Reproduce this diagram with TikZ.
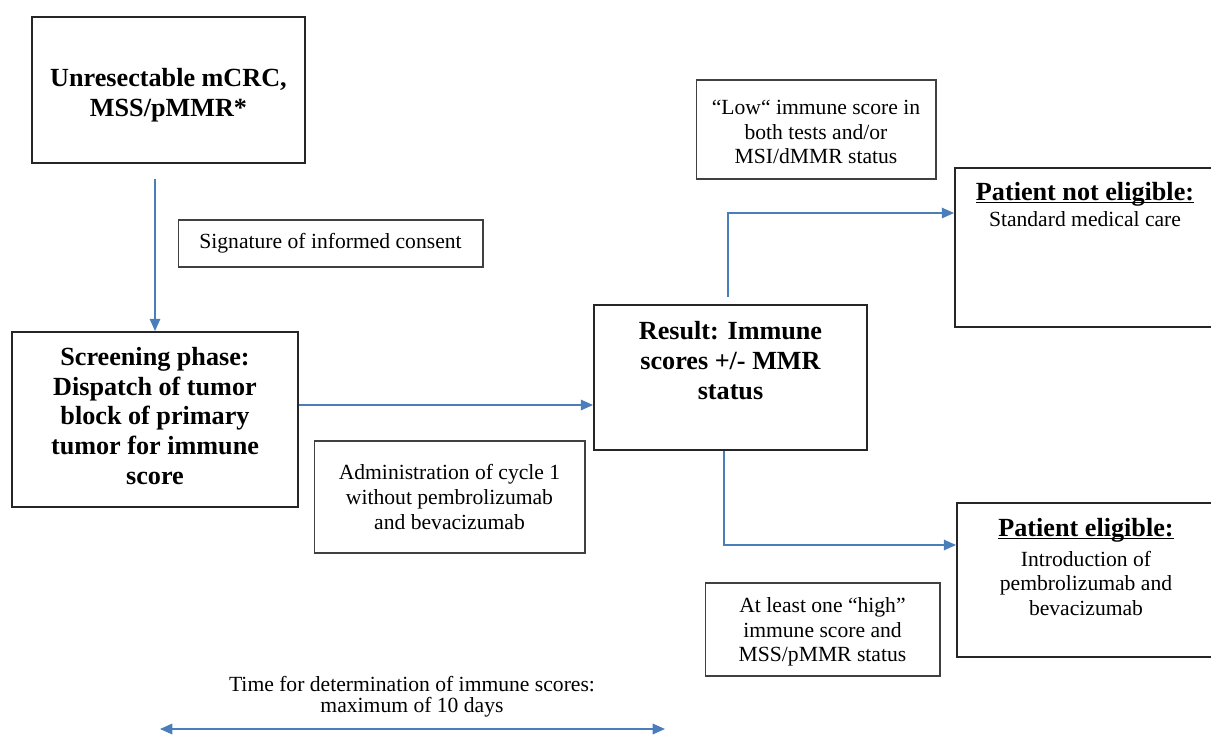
\documentclass[tikz,border=0pt]{standalone}
\usepackage{fontspec}
\setmainfont{Liberation Serif}
\usepackage{xcolor}
\usetikzlibrary{arrows.meta}
\usetikzlibrary{positioning}
\definecolor{flowblue}{HTML}{4A7EBB}
\newsavebox{\titlebox}
\newcommand{\boxtitle}[1]{{\fontsize{14.9}{17}\selectfont\bfseries\sbox{\titlebox}{#1}\rlap{\rule[-1.6pt]{\wd\titlebox}{0.9pt}}\usebox{\titlebox}}}
\tikzset{>={Triangle[length=7pt,width=6pt]}}
\tikzset{mainbox/.style = {shape=rectangle,draw=black!85,line width=1.1pt}}
\tikzset{notebox/.style = {shape=rectangle,draw=black!75,line width=0.6pt,align=center,font=\fontsize{12.3}{14}\selectfont}}
\tikzset{heading/.style = {align=center,font=\fontsize{14.9}{17}\selectfont\bfseries}}
\tikzset{plain/.style = {align=center,font=\fontsize{12.3}{14}\selectfont}}
\tikzset{flow/.style = {draw=flowblue,line width=0.9pt,->}}

\begin{document}
\begin{tikzpicture}[x=0.02cm,y=-0.02cm]
                    \useasboundingbox (0,0) rectangle (1211,735);

                    \node[mainbox,minimum width=5.46cm,minimum height=2.92cm] (mcrc) at (168.5,90) {};
                    \node[heading] (mcrctxt) at (168.5,95) {Unresectable mCRC,\\MSS/pMMR*};
                    \node[mainbox,minimum width=5.72cm,minimum height=3.5cm] (screening) at (155,419.5) {};
                    \node[heading] (screeningtxt) at (155,416) {Screening phase:\\Dispatch of tumor\\block of primary\\tumor for immune\\score};
                    \node[mainbox,minimum width=5.46cm,minimum height=2.9cm] (result) at (730.5,377.5) {};
                    \node[heading,below=0.22cm of result.north] (resulttxt) {Result: Immune\\scores +/- MMR\\status};
                    \node[mainbox,minimum width=5.2cm,minimum height=3.18cm] (noteligible) at (1085,247.5) {};
                    \node[plain,below=0.18cm of noteligible.north] (noteligibletxt) {\boxtitle{Patient not eligible:}\\[1pt]Standard medical care};
                    \node[mainbox,minimum width=5.16cm,minimum height=3.08cm] (eligible) at (1086,580) {};
                    \node[plain,below=0.2cm of eligible.north] (eligibletxt) {\boxtitle{Patient eligible:}\\[3pt]Introduction of\\pembrolizumab and\\bevacizumab};

                    \node[notebox,minimum width=6.1cm,minimum height=0.94cm] (consent) at (330.5,243.5) {Signature of informed consent};
                    \node[notebox,minimum width=5.42cm,minimum height=2.24cm] (cycle) at (449.5,497) {Administration of cycle 1\\without pembrolizumab\\and bevacizumab};
                    \node[notebox,minimum width=4.8cm,minimum height=1.98cm] (low) at (816,129.5) {};
                    \node[plain] (lowtxt) at (816,132) {“Low“ immune score in\\both tests and/or\\MSI/dMMR status};
                    \node[notebox,minimum width=4.7cm,minimum height=1.86cm] (high) at (822.5,629.5) {};
                    \node[plain] (hightxt) at (822.5,632) {At least one “high”\\immune score and\\MSS/pMMR status};

                    \node[plain] (time) at (412,697) {Time for determination of immune scores:\\[-2pt]maximum of 10 days};
                    \coordinate (tstart) at (160,729);
                    \coordinate (tend) at (665,729);

                    \draw[flow,shorten <=0.3cm] (screening.north |- mcrc.south) -- (screening.north);
                    \draw[flow] ([yshift=0.29cm]screening.east) -- ([yshift=0.29cm]screening.east -| result.west);
                    \draw[flow,shorten <=0.14cm] ([xshift=-0.05cm]result.north) |- ([yshift=0.69cm]noteligible.west);
                    \draw[flow] ([xshift=-0.13cm]result.south) |- ([yshift=0.7cm]eligible.west);
                    \draw[flow,<->] (tstart) -- (tend);
                \end{tikzpicture}
\end{document}
